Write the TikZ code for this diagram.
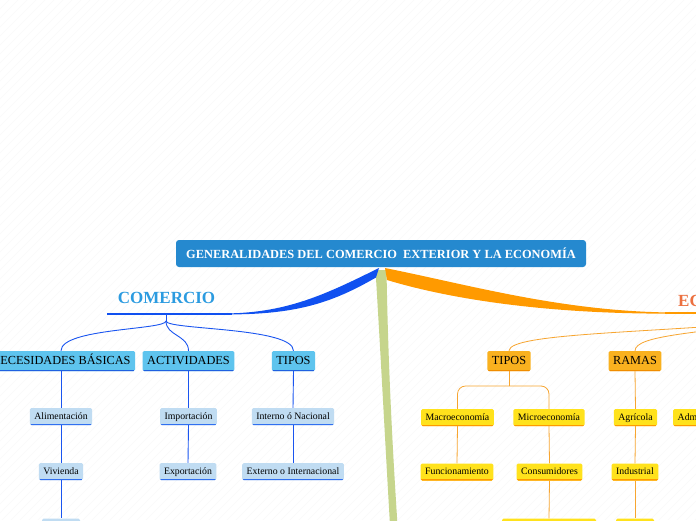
\documentclass[tikz,border=0pt]{standalone}
\usepackage{fontspec}
\setmainfont{Liberation Serif}
\definecolor{rootc}{HTML}{2589CF}
\definecolor{bbr}{HTML}{1050F0}
\definecolor{bln}{HTML}{1A55F0}
\definecolor{bonef}{HTML}{5EC4EE}
\definecolor{bonel}{HTML}{2060E0}
\definecolor{btwof}{HTML}{C0DCF2}
\definecolor{btwol}{HTML}{3070F0}
\definecolor{obr}{HTML}{FF9A00}
\definecolor{oonef}{HTML}{F9B11F}
\definecolor{oonel}{HTML}{F08C00}
\definecolor{ytwof}{HTML}{FFE21C}
\definecolor{oln}{HTML}{F7A530}
\definecolor{ecoc}{HTML}{EC7040}
\definecolor{comc}{HTML}{2B9BE0}
\definecolor{grn}{HTML}{C6D58C}
\begin{document}
\begin{tikzpicture}[x=1pt,y=-1pt,
  hatch/.style={draw=black!4,line width=0.3pt},
  boxbase/.style={rounded corners=1.5pt,inner xsep=4.5pt,inner ysep=0pt},
  uline/.style={path picture={\draw[line width=2.4pt,#1] (path picture bounding box.south west) -- (path picture bounding box.south east);}},
  bone/.style={boxbase,fill=bonef,uline=bonel,minimum height=20pt,font=\fontsize{12.3}{14}\selectfont,text height=8.6pt,text depth=2.4pt},
  btwo/.style={boxbase,fill=btwof,uline=btwol,minimum height=17pt,font=\fontsize{9.8}{11}\selectfont,text height=7pt,text depth=2pt},
  oone/.style={boxbase,fill=oonef,uline=oonel,minimum height=20pt,font=\fontsize{12.3}{14}\selectfont,text height=8.6pt,text depth=2.4pt},
  ytwo/.style={boxbase,fill=ytwof,uline=obr,minimum height=17pt,font=\fontsize{9.8}{11}\selectfont,text height=7pt,text depth=2pt},
  bl/.style={draw=bln,line width=0.9pt},
  ol/.style={draw=oln,line width=0.8pt},
  title/.style={font=\bfseries\fontsize{17}{20}\selectfont,inner sep=0pt}
]
\useasboundingbox (0,0) rectangle (696,520);
\clip (0,0) rectangle (696,520);
\fill[white] (0,0) rectangle (696,520);
\foreach \i in {-520,-511,...,696} \draw[hatch] (\i,520) -- ++(520,-520);

% main branches
\fill[grn] (375.5,270) -- (386.5,270) .. controls (388,360) and (392,440) .. (397.5,525) -- (390,525) .. controls (385,440) and (381,360) .. (375.5,270) -- cycle;
\fill[bbr] (379,268) .. controls (330,292) and (290,312.5) .. (228,313.4) -- (228,314.4) .. controls (300,314.5) and (335,301) .. (376,277.5) -- cycle;
\fill[obr] (385,268) .. controls (470,285) and (560,311) .. (670,312.5) -- (670,313.6) .. controls (560,314) and (460,302) .. (387,280) -- cycle;
\draw[bbr,line width=1.1pt] (107,314) -- (232,314);
\draw[obr,line width=1.1pt] (665,313) -- (700,313);

% root
\node[fill=rootc,rounded corners=3pt,minimum width=410pt,minimum height=27pt,inner sep=0pt,text=white,font=\bfseries\fontsize{12.4}{14}\selectfont] (root) at (381,253.5) {GENERALIDADES DEL COMERCIO~ EXTERIOR Y LA ECONOMÍA};

% titles
\node[title,text=comc] (com) at (166.5,298) {COMERCIO};
\node[title,text=ecoc,anchor=west] (eco) at (678,299) {ECONOMÍA};

% blue side
\node[bone] (nec) at (61,361) {NECESIDADES BÁSICAS};
\node[bone] (act) at (188.5,361) {ACTIVIDADES};
\node[bone] (tip) at (293.5,361) {TIPOS};
\node[btwo] (ali) at (61,416.5) {Alimentación};
\node[btwo] (viv) at (61,471.5) {Vivienda};
\node[btwo,minimum width=38pt] (nb3) at (61,527) {};
\node[btwo] (imp) at (188.5,416.5) {Importación};
\node[btwo] (exp) at (188,471.5) {Exportación};
\node[btwo] (int) at (293,416.5) {Interno ó Nacional};
\node[btwo] (ext) at (293,471.5) {Externo o Internacional};

\coordinate (cu) at (166,314);
\coordinate (cj) at (166,321);
\draw[bl] (cu) -- (cj);
\draw[bl] (cj) .. controls (166,330) and (61,328) .. (nec.north);
\draw[bl] (cj) .. controls (166,336) and (188.5,335) .. (act.north);
\draw[bl] (cj) .. controls (166,330) and (293.5,327) .. (tip.north);
\draw[bl] (nec.south) -- (ali.north);
\draw[bl] (ali.south) -- (viv.north);
\draw[bl] (viv.south) -- (nb3.north);
\draw[bl] (act.south) -- (imp.north);
\draw[bl] (imp.south) -- (exp.north);
\draw[bl] (tip.south) -- (int.north);
\draw[bl] (int.south) -- (ext.north);

% orange side
\node[oone] (otip) at (509,361) {TIPOS};
\node[oone] (ram) at (635,361) {RAMAS};
\node[ytwo] (mac) at (457.5,417.5) {Macroeconomía};
\node[ytwo] (mic) at (549,417.5) {Microeconomía};
\node[ytwo] (agr) at (635.5,417.5) {Agrícola};
\node[ytwo,anchor=west] (adm) at (673,417.5) {Administrativa};
\node[ytwo] (fun) at (457,472) {Funcionamiento};
\node[ytwo] (con) at (549.5,472) {Consumidores};
\node[ytwo] (ind) at (635,472) {Industrial};
\node[ytwo,minimum width=94pt] (ob1) at (549,527) {};
\node[ytwo,minimum width=38pt] (ob2) at (635,527) {};

\coordinate (ej) at (780,321);
\draw[ol] (ej) .. controls (650,333) and (509,333) .. (otip.north);
\draw[ol] (ej) .. controls (700,333) and (635,335) .. (ram.north);
\coordinate (tj) at (509,386);
\draw[ol] (otip.south) -- (tj);
\draw[ol,rounded corners=8pt] (tj) -| (mac.north);
\draw[ol,rounded corners=8pt] (tj) -| (mic.north);
\draw[ol] (mac.south) -- (fun.north);
\draw[ol] (mic.south) -- (con.north);
\draw[ol] (con.south) -- (ob1.north);
\draw[ol] (ram.south) -- (agr.north);
\draw[ol] (agr.south) -- (ind.north);
\draw[ol] (ind.south) -- (ob2.north);
\end{tikzpicture}
\end{document}
